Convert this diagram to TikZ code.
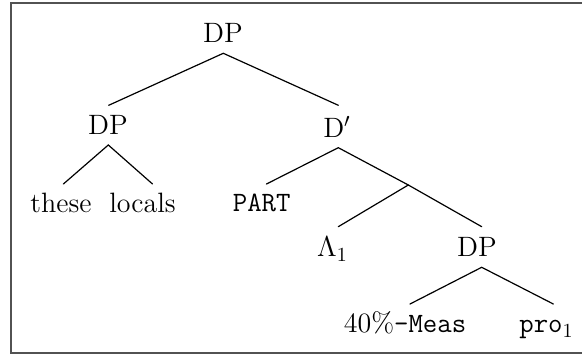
\documentclass[tikz,border=0pt]{standalone}
\usepackage{fontspec}
\begin{document}
\begin{tikzpicture}[x=0.5pt,y=-0.5pt,
  lab/.style={anchor=base,inner sep=0pt,font=\fontsize{14}{16}\selectfont},
  edge/.style={line width=0.6pt,line cap=round},
  frame/.style={draw=black!68,line width=1pt}]
\useasboundingbox (0,0) rectangle (582,356);
\draw[frame] (10.5,2.7) rectangle (600,353.3);
% text nodes
\node[lab] (root)   at (223,43)    {DP};
\node[lab] (dpl)    at (108,135)   {DP};
\node[lab] (dbar)   at (337,138)   {D$'$};
\node[lab] (these)  at (61,213)    {these};
\node[lab] (locals) at (142.5,213) {locals};
\node[lab] (part)   at (261.7,212) {\fontsize{14}{16}\selectfont\ttfamily PART};
\node[lab] (lam)    at (332.5,257) {$\Lambda_1$};
\node[lab] (dpr)    at (477,257)   {DP};
\node[lab] (meas)   at (405,333)   {40\%{\fontsize{14}{16}\selectfont\ttfamily -Meas}};
\node[lab] (pro)    at (546.5,333) {{\fontsize{14}{16}\selectfont\ttfamily pro}$_1$};
% branch points
\coordinate (root-dn)   at (223.3,53.3);
\coordinate (dpl-up)    at (108.7,105.3);
\coordinate (dbar-up)   at (338.3,105.3);
\coordinate (dpl-dn)    at (108.3,145);
\coordinate (these-up)  at (63.4,184);
\coordinate (locals-up) at (152.5,184);
\coordinate (dbar-dn)   at (338.3,147.7);
\coordinate (part-up)   at (266.5,184);
\coordinate (mid)       at (408.3,185);
\coordinate (lam-up)    at (338.3,226.7);
\coordinate (dpr-up)    at (481.7,226.7);
\coordinate (dpr-dn)    at (481.7,267.3);
\coordinate (meas-up)   at (410,304);
\coordinate (pro-up)    at (553.3,304);
% connectors
\draw[edge] (dpl-up) -- (root-dn) -- (dbar-up);
\draw[edge] (these-up) -- (dpl-dn) -- (locals-up);
\draw[edge] (part-up) -- (dbar-dn) -- (mid);
\draw[edge] (lam-up) -- (mid) -- (dpr-up);
\draw[edge] (meas-up) -- (dpr-dn) -- (pro-up);
\end{tikzpicture}
\end{document}
